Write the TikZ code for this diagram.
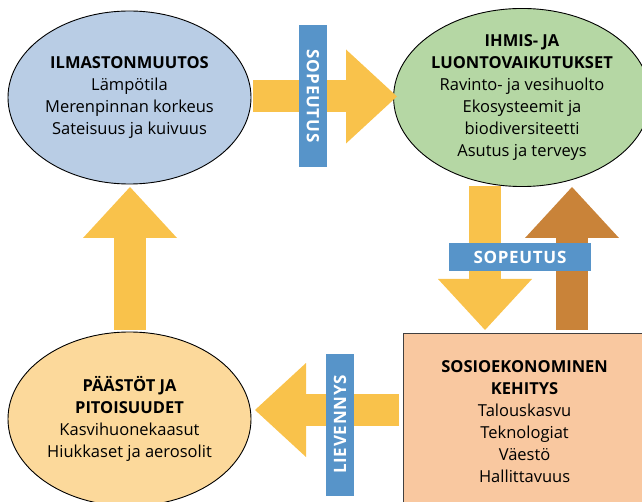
\documentclass[tikz,border=0pt]{standalone}
\usepackage{fontspec}
\setmainfont{Open Sans}
\usetikzlibrary{shapes.geometric,arrows.meta,positioning}

\definecolor{ilmblue}{HTML}{B9CDE5}
\definecolor{vaigreen}{HTML}{B5D7A4}
\definecolor{paayellow}{HTML}{FCD99B}
\definecolor{sospeach}{HTML}{F9C8A0}
\definecolor{arrowyellow}{HTML}{F9C24B}
\definecolor{arrowbrown}{HTML}{C98339}
\definecolor{labelblue}{HTML}{5794C9}

\begin{document}
\begin{tikzpicture}[x=1pt,y=-1pt,line join=miter,
  every node/.style={font=\fontsize{16.5}{22}\selectfont,align=center},
  kupla/.style={ellipse,draw=black,line width=0.9pt,inner sep=0pt},
  nuoli/.style={line width=32pt,draw=#1,
    -{Triangle[length=51pt,width=94pt,line width=0pt]}},
  tarra/.style={fill=labelblue,text=white,inner sep=0pt,
    font=\fontsize{17}{22}\selectfont\bfseries\addfontfeatures{LetterSpace=4},
    minimum width=142pt,minimum height=28pt}]
  \useasboundingbox (0,0) rectangle (642,502);
  \clip (0,0) rectangle (642,502);

  % kuplat ja laatikko
  \node[kupla,fill=ilmblue,minimum width=243pt,minimum height=173pt] (ilm) at (129.5,97.5)
    {\textbf{ILMASTONMUUTOS}\\Lämpötila\\Merenpinnan korkeus\\Sateisuus ja kuivuus};
  \node[kupla,fill=vaigreen,minimum width=238pt,minimum height=172pt] (vai) at (522,97.5)
    {\textbf{IHMIS- JA}\\\textbf{LUONTOVAIKUTUKSET}\\Ravinto- ja vesihuolto\\Ekosysteemit ja\\biodiversiteetti\\Asutus ja terveys};
  \node[kupla,fill=paayellow,minimum width=243pt,minimum height=174pt] (paa) at (129.5,419)
    {\textbf{PÄÄSTÖT JA}\\\textbf{PITOISUUDET}\\Kasvihuonekaasut\\Hiukkaset ja aerosolit};
  \node[draw=black!75,fill=sospeach,line width=1.2pt,minimum width=242pt,minimum height=176pt,
    anchor=north west] (sos) at (403,333)
    {\textbf{SOSIOEKONOMINEN}\\\textbf{KEHITYS}\\Talouskasvu\\Teknologiat\\Väestö\\Hallittavuus};

  % nuolten päät
  \coordinate (alas1) at (485,186);
  \coordinate (alas2) at (485,330);
  \coordinate (ylos1) at (572,330);
  \coordinate (ylos2) at (572,187);
  \coordinate (vas1) at (399,410);
  \coordinate (vas2) at (255,410);
  \coordinate (oik1) at (253,96.5);
  \coordinate (oik2) at (397,96.5);
  \coordinate (ilmy1) at (130,330);
  \coordinate (ilmy2) at (130,187);

  \draw[nuoli=arrowyellow] (oik1) -- (oik2);
  \draw[nuoli=arrowyellow] (alas1) -- (alas2);
  \draw[nuoli=arrowbrown] (ylos1) -- (ylos2);
  \draw[nuoli=arrowyellow] (vas1) -- (vas2);
  \draw[nuoli=arrowyellow] (ilmy1) -- (ilmy2);

  % tarrat
  \node[tarra,rotate=-90] (sop1) at (313,96) {SOPEUTUS};
  \node[tarra] (sop2) at (520,257) {SOPEUTUS};
  \node[tarra,rotate=90] (liev) at (340,424.5) {LIEVENNYS};
\end{tikzpicture}
\end{document}
